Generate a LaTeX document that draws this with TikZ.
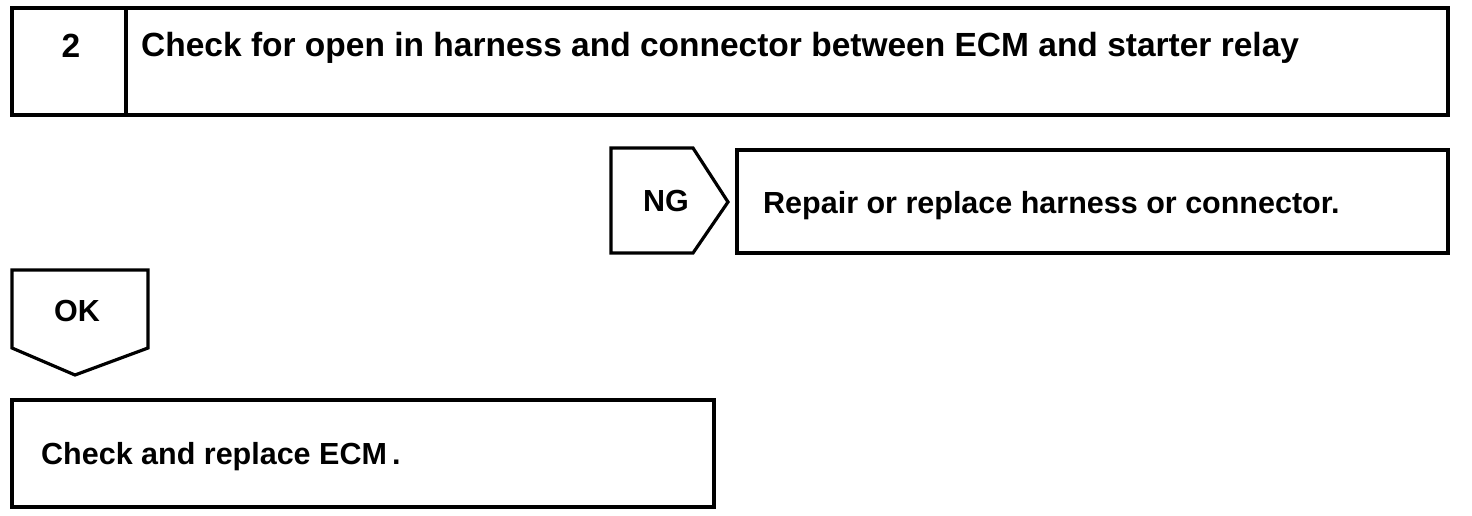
\documentclass[tikz,border=0pt]{standalone}
\usepackage{fontspec}
\setmainfont{Liberation Sans}
\begin{document}
\begin{tikzpicture}[x=1pt,y=-1pt,
  frame/.style={draw=black,line width=3.2pt,line join=miter},
  bigtxt/.style={font=\bfseries\fontsize{33.5}{38}\selectfont,inner sep=0pt},
  midtxt/.style={font=\bfseries\fontsize{30.5}{36}\selectfont,inner sep=0pt}]
\useasboundingbox[fill=white] (0,0) rectangle (1472,516);
% top step box
\draw[frame] (12,8) rectangle (1448,115);
\draw[frame] (126,8) -- (126,115);
\node[bigtxt] (num) at (71,46) {2};
\node[bigtxt,anchor=base west] (title) at (141,57) {Check for open in harness and connector between ECM and starter relay};
% NG arrow
\draw[frame] (611,148) -- (693,148) -- (728,202) -- (693,253) -- (611,253) -- cycle;
\node[midtxt] (ng) at (666,201) {NG};
% repair box
\draw[frame] (737,150) rectangle (1448,253);
\node[midtxt,anchor=base west] (repair) at (763,213) {Repair or replace harness or connector.};
% OK arrow
\draw[frame] (12,270) -- (148,270) -- (148,348) -- (75,375) -- (12,348) -- cycle;
\node[midtxt] (ok) at (77,311) {OK};
% ECM box
\draw[frame] (12,400) rectangle (714,507);
\node[midtxt,anchor=base west] (ecm) at (41,464) {Check and replace ECM\,.};
\end{tikzpicture}
\end{document}
